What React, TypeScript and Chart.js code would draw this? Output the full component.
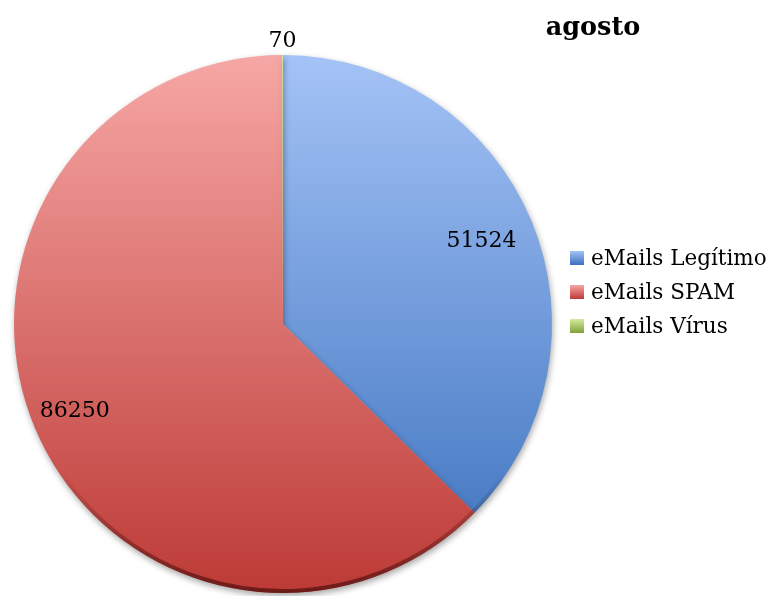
import React, { useEffect, useRef } from "react";
import { Chart, registerables } from "chart.js";

Chart.register(...registerables);

const categories = ["eMails Legítimo", "eMails SPAM", "eMails Vírus"];
const values = [51524, 86250, 70];
const titleText = "agosto";

const topColors = ["#a4c3f6", "#f6a7a5", "#d6eaa0"];
const bottomColors = ["#3a70bd", "#bd3a36", "#7fa23a"];
const labelRadius = [0.8, 0.84, 1.05];

const FONT = "'DejaVu Serif', serif";

export default function App() {
  const ref = useRef<HTMLCanvasElement | null>(null);

  useEffect(() => {
    if (!ref.current) return;

    const overlay = {
      id: "overlay",
      beforeDatasetsDraw(chart: any) {
        const ctx = chart.ctx;
        ctx.save();
        ctx.shadowColor = "rgba(0,0,0,0.35)";
        ctx.shadowBlur = 6;
        ctx.shadowOffsetX = 1;
        ctx.shadowOffsetY = 3;
      },
      afterDatasetsDraw(chart: any) {
        const ctx = chart.ctx;
        ctx.restore();
        const meta = chart.getDatasetMeta(0);
        // darker bevel rim along the bottom edge
        const a0: any = meta.data[0];
        if (a0) {
          const cx = a0.x, cy = a0.y, R = a0.outerRadius;
          ctx.save();
          ctx.beginPath();
          ctx.arc(cx, cy, R, 0, Math.PI * 2);
          ctx.clip();
          const rim = ctx.createLinearGradient(0, cy + R * 0.55, 0, cy + R);
          rim.addColorStop(0, "rgba(40,0,0,0)");
          rim.addColorStop(1, "rgba(40,0,0,0.55)");
          ctx.strokeStyle = rim;
          ctx.lineWidth = 6;
          ctx.beginPath();
          ctx.arc(cx, cy, R - 1, 0.1 * Math.PI, 0.9 * Math.PI);
          ctx.stroke();
          ctx.restore();
        }
        ctx.save();
        ctx.fillStyle = "#000";
        ctx.font = `22px ${FONT}`;
        ctx.textAlign = "center";
        ctx.textBaseline = "middle";
        meta.data.forEach((arc: any, i: number) => {
          const mid = (arc.startAngle + arc.endAngle) / 2;
          const r = arc.outerRadius * labelRadius[i];
          const x = arc.x + Math.cos(mid) * r;
          const y = arc.y + Math.sin(mid) * r;
          ctx.fillText(String(values[i]), x, y);
        });
        // title
        ctx.font = `bold 25.5px ${FONT}`;
        ctx.fillText(titleText, 593, 28);
        // legend
        ctx.font = `21.5px ${FONT}`;
        ctx.textAlign = "left";
        categories.forEach((c, i) => {
          const y = 258 + i * 34;
          const g = ctx.createLinearGradient(0, y - 7, 0, y + 7);
          g.addColorStop(0, topColors[i]);
          g.addColorStop(1, bottomColors[i]);
          ctx.fillStyle = g;
          ctx.fillRect(570, y - 7, 14, 14);
          ctx.fillStyle = "#000";
          ctx.fillText(c, 591, y + 1);
        });
        ctx.restore();
      },
    };

    const chart = new Chart(ref.current, {
      type: "pie",
      data: {
        labels: categories,
        datasets: [
          {
            data: values,
            borderWidth: 0,
            backgroundColor: (context: any) => {
              const ch = context.chart;
              const area = ch.chartArea;
              const i = context.dataIndex;
              if (!area) return bottomColors[i];
              const g = ch.ctx.createLinearGradient(0, area.top, 0, area.bottom);
              g.addColorStop(0, topColors[i]);
              g.addColorStop(1, bottomColors[i]);
              return g;
            },
          },
        ],
      },
      options: {
        responsive: false,
        animation: false,
        layout: { padding: { left: 14, top: 55, right: 218, bottom: 3 } },
        plugins: {
          legend: { display: false },
          title: { display: false },
          tooltip: { enabled: false },
        },
      },
      plugins: [overlay],
    });

    return () => chart.destroy();
  }, []);

  return (
    <div style={{ position: "fixed", left: 0, top: 0, width: 770, height: 596, background: "#fff" }}>
      <canvas ref={ref} width={770} height={596} />
    </div>
  );
}
